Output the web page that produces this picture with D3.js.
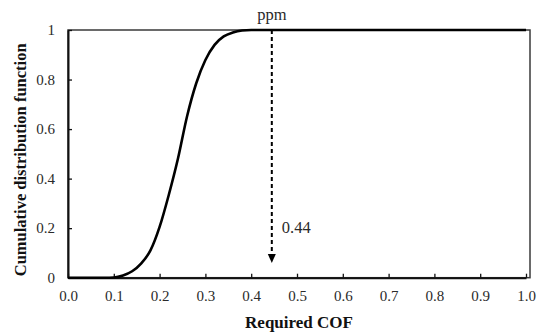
<!DOCTYPE html>
<html><head><meta charset="utf-8">
<script src="https://cdn.jsdelivr.net/npm/d3@7"></script>
<style>body{margin:0;background:#fff}svg{display:block}svg text{font-family:"Liberation Serif","Times New Roman",serif}</style>
</head><body>
<svg id="c" width="544" height="334"></svg>
<script>
const cofX = [0, 0.02, 0.04, 0.06, 0.08, 0.10, 0.12, 0.14, 0.16, 0.18, 0.20, 0.22, 0.24, 0.26, 0.28, 0.30, 0.32, 0.34, 0.36, 0.38, 0.40, 0.44, 0.6, 0.8, 1.0];
const cdfY = [0, 0, 0, 0, 0, 0.001, 0.009, 0.026, 0.058, 0.11, 0.205, 0.334, 0.48, 0.652, 0.785, 0.879, 0.94, 0.974, 0.99, 0.998, 1.0, 1.0, 1.0, 1.0, 1.0];
const xTicks = [0, 0.1, 0.2, 0.3, 0.4, 0.5, 0.6, 0.7, 0.8, 0.9, 1.0];
const yTicks = [0, 0.2, 0.4, 0.6, 0.8, 1];
const markerX = 0.445;
const markerLabel = "0.44";
const topLabel = "ppm";
const xTitle = "Required COF";
const yTitle = "Cumulative distribution function";

const svg = d3.select("#c");
const L = 68, R = 526, T = 30, B = 277.7, boxR = 530;
const x = d3.scaleLinear().domain([0, 1]).range([L, R]);
const y = d3.scaleLinear().domain([0, 1]).range([B, T]);

svg.append("rect").attr("x", L).attr("y", T).attr("width", boxR - L).attr("height", B - T)
  .attr("fill", "none").attr("stroke", "#3a3a3a").attr("stroke-width", 1.5);

const xa = svg.append("g").attr("transform", `translate(0,${B})`)
  .call(d3.axisBottom(x).tickValues(xTicks).tickFormat(d3.format(".1f")).tickSizeInner(-4).tickSizeOuter(0).tickPadding(13));
const ya = svg.append("g").attr("transform", `translate(${L},0)`)
  .call(d3.axisLeft(y).tickValues(yTicks).tickFormat(d => d === 0 || d === 1 ? String(d) : d3.format(".1f")(d)).tickSizeInner(-4).tickSizeOuter(0).tickPadding(13));
[xa, ya].forEach(a => {
  a.attr("font-family", null);
  a.select(".domain").attr("stroke", "#111").attr("stroke-width", 2);
  a.selectAll(".tick line").attr("stroke", "#111").attr("stroke-width", 1.3);
  a.selectAll("text").style("font-size", "15px").attr("fill", "#2a2a2a");
});

const pts = cofX.map((v, i) => [v, cdfY[i]]);
svg.append("path").datum(pts)
  .attr("d", d3.line().x(d => x(d[0])).y(d => y(d[1])).curve(d3.curveMonotoneX))
  .attr("fill", "none").attr("stroke", "#000").attr("stroke-width", 2.6);

const ax = x(markerX);
svg.append("line").attr("x1", ax).attr("x2", ax).attr("y1", y(1)).attr("y2", 255)
  .attr("stroke", "#000").attr("stroke-width", 2).attr("stroke-dasharray", "4,3");
svg.append("path").attr("d", `M${ax - 4},254 L${ax + 4},254 L${ax},263 Z`).attr("fill", "#000");

svg.append("text").attr("x", ax + 10).attr("y", 233).style("font-size", "16.5px")
  .attr("fill", "#2a2a2a").text(markerLabel);
svg.append("text").attr("x", ax).attr("y", 20).attr("text-anchor", "middle")
  .style("font-size", "16.5px").attr("fill", "#2a2a2a").text(topLabel);

svg.append("text").attr("x", (L + boxR) / 2).attr("y", 328).attr("text-anchor", "middle")
  .attr("font-weight", "bold").style("font-size", "17px").attr("fill", "#111").text(xTitle);
svg.append("text").attr("transform", `translate(26,${(T + B) / 2 + 6}) rotate(-90)`).attr("text-anchor", "middle")
  .attr("font-weight", "bold").style("font-size", "16.5px").attr("fill", "#111").text(yTitle);
</script>
</body></html>
